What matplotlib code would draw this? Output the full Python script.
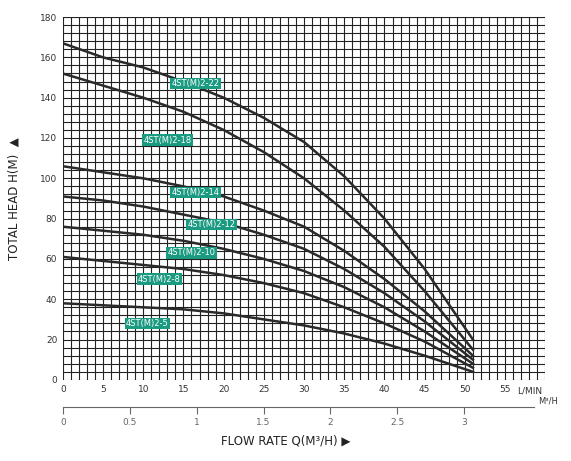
import matplotlib
matplotlib.use("Agg")
import matplotlib.pyplot as plt
import numpy as np

Q = [0, 5, 10, 15, 20, 25, 30, 35, 40, 45, 51]
curves = {
    "4ST(M)2-22": [167, 160, 155, 148, 140, 130, 118, 101, 80, 55, 20],
    "4ST(M)2-18": [152, 146, 140, 133, 124, 113, 100, 84, 66, 44, 15],
    "4ST(M)2-14": [106, 103, 100, 96, 91, 84, 76, 64, 50, 34, 12],
    "4ST(M)2-12": [91, 89, 86, 82, 78, 72, 65, 55, 43, 29, 10],
    "4ST(M)2-10": [76, 74, 72, 69, 65, 60, 54, 46, 36, 24, 8],
    "4ST(M)2-8": [61, 59, 57, 55, 52, 48, 43, 36, 28, 19, 6],
    "4ST(M)2-5": [38, 37, 36, 35, 33, 30, 27, 23, 18, 12, 4],
}
label_pos = {
    "4ST(M)2-22": (16.5, 147), "4ST(M)2-18": (13, 119), "4ST(M)2-14": (16.5, 93),
    "4ST(M)2-12": (18.5, 77), "4ST(M)2-10": (16, 63), "4ST(M)2-8": (12, 50),
    "4ST(M)2-5": (10.5, 28),
}
lmin_ticks = [0, 5, 10, 15, 20, 25, 30, 35, 40, 45, 50, 55]
m3h_ticks = [0, 0.5, 1, 1.5, 2, 2.5, 3]
y_ticks = [0, 20, 40, 60, 80, 100, 120, 140, 160, 180]

fig = plt.figure(figsize=(5.71, 4.61), dpi=100)
ax = fig.add_axes([0.110, 0.176, 0.845, 0.787])
ax.set_xlim(0, 60)
ax.set_ylim(0, 180)
for x in np.arange(0, 61, 1):
    ax.axvline(x, color="#222", lw=0.8, zorder=1)
for y in np.arange(0, 181, 4):
    ax.axhline(y, color="#222", lw=0.8, zorder=1)
for name, h in curves.items():
    ax.plot(Q, h, color="#2a2a2a", lw=1.8, zorder=3)
    x, y = label_pos[name]
    ax.text(x, y, name, color="white", fontsize=6, ha="center", va="center", zorder=4,
            bbox=dict(boxstyle="square,pad=0.15", fc="#1a9a80", ec="none"))
ax.set_xticks(lmin_ticks)
ax.set_yticks(y_ticks)
ax.tick_params(length=0, labelsize=6.5, colors="#333", pad=4)
for s in ax.spines.values():
    s.set_visible(False)
ax.text(56.5, -3.5, "L/MIN", fontsize=6.5, color="#333", va="top")
ax.set_ylabel("TOTAL HEAD H(M)  \u25B2", fontsize=8.5, color="#222", labelpad=14)

ax2 = fig.add_axes([0.110, 0.117, 0.825, 0.001])
ax2.set_xlim(0, 3.52)
ax2.set_yticks([])
ax2.set_xticks(m3h_ticks)
ax2.set_xticklabels([str(t) for t in m3h_ticks])
for k in ["left", "right", "bottom"]:
    ax2.spines[k].set_visible(False)
ax2.spines["top"].set_color("#666")
ax2.xaxis.set_ticks_position("top")
ax2.tick_params(axis="x", direction="in", length=5, colors="#666", labelsize=6.5,
                labelbottom=True, labeltop=False, pad=8)
fig.text(0.943, 0.12, "M\u00b3/H", fontsize=6, color="#333", va="bottom")
fig.text(0.5, 0.035, "FLOW RATE Q(M\u00b3/H) \u25B6", fontsize=8.5, color="#222", ha="center")
fig.savefig("out.png", dpi=100)
